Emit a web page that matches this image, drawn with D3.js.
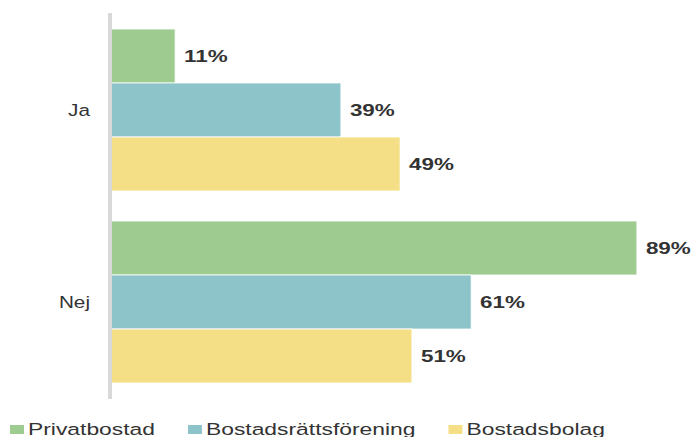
<!DOCTYPE html>
<html>
<head>
  <meta charset="utf-8">
  <title>Ja / Nej</title>
  <script src="https://cdn.jsdelivr.net/npm/d3@7"></script>
  <style>
    body {
      margin: 0;
      background: #ffffff;
      font-family: 'Liberation Sans', Arial, sans-serif;
    }
    text {
      fill: #333333;
    }
  </style>
</head>
<body>
  <div id="chart"></div>
  <script>
    var categories = ["Ja", "Nej"];
    var seriesNames = ["Privatbostad", "Bostadsrättsförening", "Bostadsbolag"];
    var privatbostad = [11, 89];
    var bostadsratt = [39, 61];
    var bostadsbolag = [49, 51];
    var seriesValues = [privatbostad, bostadsratt, bostadsbolag];
    var seriesColors = ["#9ecb8f", "#8dc4c9", "#f4df87"];

    var width = 692,
      height = 437,
      stretch = 1.32, // text looks horizontally stretched in the reference
      legendStretch = 1.345;

    var svg = d3.select("#chart").append("svg")
      .attr("width", width)
      .attr("height", height);

    var x = d3.scaleLinear()
      .domain([0, 100])
      .range([110, 702]);

    var y = d3.scaleBand()
      .domain(categories)
      .range([14, 398])
      .paddingInner(0.15625)
      .paddingOuter(0.078125);

    var ySub = d3.scaleBand()
      .domain(seriesNames)
      .range([0, y.bandwidth()]);

    // flat table built from the arrays
    var rows = [];
    categories.forEach(function(c, i) {
      seriesNames.forEach(function(s, j) {
        rows.push({ cat: c, series: s, value: seriesValues[j][i], color: seriesColors[j] });
      });
    });

    var g = svg.selectAll("g.bar")
      .data(rows)
      .enter().append("g")
      .attr("class", "bar");

    g.append("rect")
      .attr("x", x(0))
      .attr("y", function(d) { return y(d.cat) + ySub(d.series); })
      .attr("width", function(d) { return x(d.value) - x(0); })
      .attr("height", ySub.bandwidth())
      .style("fill", function(d) { return d.color; })
      .style("stroke", "#ffffff")
      .style("stroke-width", 0.8);

    g.append("text")
      .attr("transform", function(d) {
        return "translate(" + (x(d.value) + 9) + "," + (y(d.cat) + ySub(d.series) + ySub.bandwidth() / 2) + ") scale(" + stretch + ",1)";
      })
      .attr("dy", "0.36em")
      .style("font-size", "17px")
      .style("font-weight", "bold")
      .text(function(d) { return d.value + "%"; });

    // category axis: a plain light grey line, labels to the left
    svg.append("line")
      .attr("x1", 110)
      .attr("x2", 110)
      .attr("y1", 13)
      .attr("y2", 399)
      .style("stroke", "#d9d9d9")
      .style("stroke-width", 4);

    svg.selectAll("text.cat")
      .data(categories)
      .enter().append("text")
      .attr("class", "cat")
      .attr("transform", function(d) {
        return "translate(90," + (y(d) + y.bandwidth() / 2) + ") scale(1.22,1)";
      })
      .attr("dy", "0.36em")
      .attr("text-anchor", "end")
      .style("font-size", "17px")
      .text(function(d) { return d; });

    // legend
    var legend = svg.append("g");
    var lx = 10;
    seriesNames.forEach(function(name, i) {
      var item = legend.append("g").attr("transform", "translate(" + lx + ",0)");
      item.append("rect")
        .attr("x", 0)
        .attr("y", 425)
        .attr("width", 14)
        .attr("height", 9)
        .style("fill", seriesColors[i]);
      var t = item.append("text")
        .attr("transform", "translate(18,435) scale(" + legendStretch + ",1)")
        .style("font-size", "17px")
        .text(name);
      var w = t.node().getComputedTextLength() * legendStretch;
      lx += 18 + w + 33;
    });
  </script>
</body>
</html>
